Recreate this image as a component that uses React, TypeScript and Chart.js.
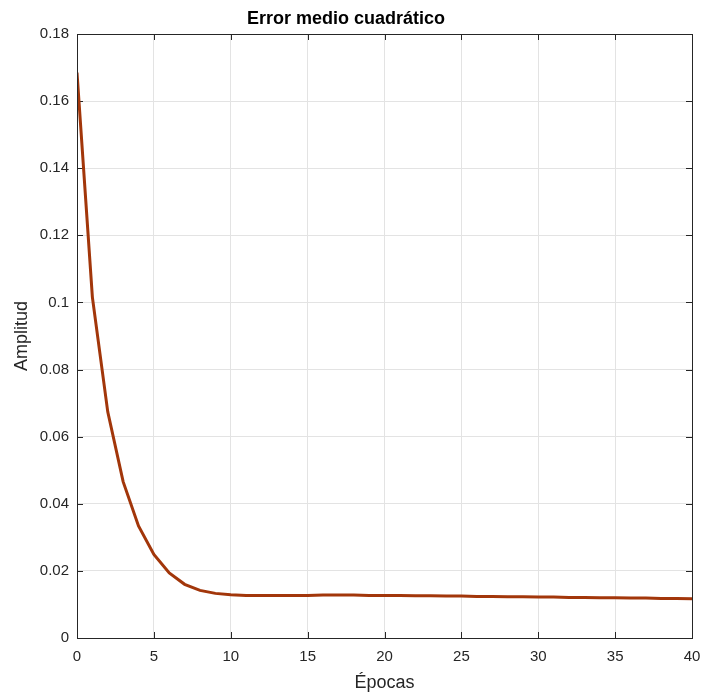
import React, { useEffect, useRef } from "react";
import { Chart, registerables } from "chart.js";

Chart.register(...registerables);

// Training error per epoch
const epochs: number[] = Array.from({ length: 41 }, (_, i) => i);
const mseValues: number[] = [
  0.1685, 0.1016, 0.0674, 0.0466, 0.0334, 0.0249, 0.0194, 0.0160, 0.0142, 0.0133,
  0.0129, 0.0127, 0.0127, 0.0127, 0.0127, 0.0127, 0.0128, 0.0128, 0.0128, 0.0127,
  0.0127, 0.0127, 0.0126, 0.0126, 0.0125, 0.0125, 0.0124, 0.0124, 0.0123, 0.0123,
  0.0122, 0.0122, 0.0121, 0.0121, 0.0120, 0.0120, 0.0119, 0.0119, 0.0118, 0.0118,
  0.0117,
];

const xTicks: number[] = [0, 5, 10, 15, 20, 25, 30, 35, 40];
const yTicks: number[] = [0, 0.02, 0.04, 0.06, 0.08, 0.1, 0.12, 0.14, 0.16, 0.18];

const TITLE = "Error medio cuadrático";
const X_LABEL = "Épocas";
const Y_LABEL = "Amplitud";

const AXIS_COLOR = "#262626";
const GRID_COLOR = "#e3e3e3";
const LINE_COLOR = "#a2360a";
const FONT = "'Liberation Sans', Arial, Helvetica, sans-serif";

const fmt = (v: number) => String(Number(v.toFixed(4)));

// Box around the plot with inward tick marks on all four sides
const boxPlugin = {
  id: "boxAxes",
  beforeDatasetsDraw(chart: any) {
    const { ctx, chartArea: a, scales } = chart;
    const len = 6;
    ctx.save();
    ctx.strokeStyle = AXIS_COLOR;
    ctx.lineWidth = 1;
    ctx.beginPath();
    for (const v of xTicks) {
      const px = Math.round(scales.x.getPixelForValue(v)) + 0.5;
      ctx.moveTo(px, a.bottom);
      ctx.lineTo(px, a.bottom - len);
      ctx.moveTo(px, a.top);
      ctx.lineTo(px, a.top + len);
    }
    for (const v of yTicks) {
      const py = Math.round(scales.y.getPixelForValue(v)) + 0.5;
      ctx.moveTo(a.left, py);
      ctx.lineTo(a.left + len, py);
      ctx.moveTo(a.right, py);
      ctx.lineTo(a.right - len, py);
    }
    ctx.stroke();
    ctx.restore();
  },
  afterDraw(chart: any) {
    const { ctx, chartArea: a } = chart;
    ctx.save();
    ctx.strokeStyle = AXIS_COLOR;
    ctx.lineWidth = 1;
    ctx.strokeRect(Math.round(a.left) + 0.5, Math.round(a.top) + 0.5, Math.round(a.right - a.left), Math.round(a.bottom - a.top));
    ctx.restore();
  },
};

export default function App() {
  const canvasRef = useRef<HTMLCanvasElement | null>(null);

  useEffect(() => {
    if (!canvasRef.current) return;
    const chart = new Chart(canvasRef.current, {
      type: "line",
      data: {
        labels: epochs,
        datasets: [
          {
            data: epochs.map((e, i) => ({ x: e, y: mseValues[i] })),
            borderColor: LINE_COLOR,
            borderWidth: 3,
            pointRadius: 0,
            tension: 0,
            fill: false,
          },
        ],
      },
      options: {
        animation: false,
        responsive: false,
        maintainAspectRatio: false,
        layout: { padding: { left: 0, right: 11, top: 0, bottom: 0 } },
        plugins: {
          legend: { display: false },
          tooltip: { enabled: false },
          title: {
            display: true,
            text: TITLE,
            color: "#000",
            font: { family: FONT, size: 18, weight: "bold" },
            padding: { top: 8, bottom: 4.4 },
          },
        },
        scales: {
          x: {
            type: "linear",
            min: 0,
            max: 40,
            afterBuildTicks: (s: any) => {
              s.ticks = xTicks.map((v) => ({ value: v }));
            },
            afterFit: (s: any) => {
              s.height = 57;
              s.paddingLeft = 0;
              s.paddingRight = 0;
            },
            grid: { color: GRID_COLOR, drawTicks: false, lineWidth: 1 },
            border: { display: true, color: AXIS_COLOR },
            ticks: {
              color: AXIS_COLOR,
              font: { family: FONT, size: 15 },
              padding: 10,
              maxRotation: 0,
              autoSkip: false,
              callback: (v: any) => fmt(Number(v)),
            },
            title: {
              display: true,
              text: X_LABEL,
              color: AXIS_COLOR,
              font: { family: FONT, size: 18 },
              padding: { top: 0, bottom: 1.2 },
            },
          },
          y: {
            type: "linear",
            min: 0,
            max: 0.18,
            afterBuildTicks: (s: any) => {
              s.ticks = yTicks.map((v) => ({ value: v }));
            },
            afterFit: (s: any) => {
              s.width = 77;
              s.paddingTop = 0;
              s.paddingBottom = 0;
            },
            grid: { color: GRID_COLOR, drawTicks: false, lineWidth: 1 },
            border: { display: true, color: AXIS_COLOR },
            ticks: {
              color: AXIS_COLOR,
              font: { family: FONT, size: 15 },
              padding: 8,
              autoSkip: false,
              callback: (v: any) => fmt(Number(v)),
            },
            title: {
              display: true,
              text: Y_LABEL,
              color: AXIS_COLOR,
              font: { family: FONT, size: 18 },
              padding: { top: 11, bottom: 0 },
            },
          },
        },
      },
      plugins: [boxPlugin],
    } as any);
    return () => chart.destroy();
  }, []);

  return (
    <div style={{ position: "fixed", left: 0, top: 0, width: 703, height: 695, background: "#fff" }}>
      <canvas ref={canvasRef} width={703} height={695} style={{ width: 703, height: 695, display: "block" }} />
    </div>
  );
}
